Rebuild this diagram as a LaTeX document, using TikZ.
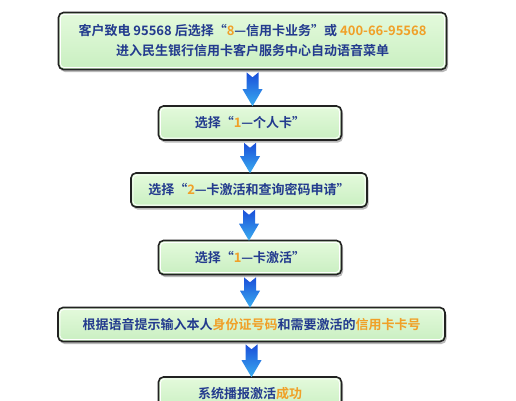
\documentclass[tikz,border=0pt]{standalone}
\usepackage{fontspec}
\setmainfont{Noto Sans CJK SC}[BoldFont={Noto Sans CJK SC Bold}]
\usepackage{xcolor}
\usepackage{tikz}
\usetikzlibrary{calc,shadows}
\definecolor{ink}{HTML}{222222}
\definecolor{textblue}{HTML}{233B8E}
\definecolor{hilite}{HTML}{F0A028}
\definecolor{softgreen}{HTML}{E4FADC}
\definecolor{boxgreen}{HTML}{C9EFC1}
\definecolor{darkblue}{HTML}{1848D8}
\definecolor{lightblue}{HTML}{3AAEF0}

\begin{document}
\begin{tikzpicture}[
  x=1pt, y=-1pt,
  font=\fontsize{13}{20}\selectfont\bfseries,
  box/.style={rounded corners=5pt, top color=softgreen, bottom color=boxgreen, draw=ink, line width=1.6pt, text=textblue, align=center, inner sep=0pt, minimum height=34pt,
    drop shadow={shadow xshift=1.5pt, shadow yshift=-2.5pt, opacity=0.55},
    path picture={\draw[white, line width=0.8pt, rounded corners=4pt] ($(path picture bounding box.south west)+(1.9pt,1.9pt)$) rectangle ($(path picture bounding box.north east)+(-1.9pt,-1.9pt)$);}},
  arrow/.style={top color=darkblue, bottom color=lightblue, draw=none,
    to path={let \p1=(\tikztostart), \p2=(\tikztotarget) in
      (\x1-6pt,\y1-2pt) -- (\x1,\y1-7pt) -- (\x1+6pt,\y1-2pt) -- (\x1+6pt,\y2+16pt) -- (\x1+10pt,\y2+16pt)
      -- (\x1,\y2-1pt) -- (\x1-10pt,\y2+16pt) -- (\x1-6pt,\y2+16pt) -- cycle}}
]
\useasboundingbox (0,0) rectangle (516,400);
\fill[white] (0,0) rectangle (516,400);
\node[box, minimum width=388pt, minimum height=57pt] (menu) at (252.5,41) {客户致电 95568 后选择“\textcolor{hilite}{8}—信用卡业务”或 \textcolor{hilite}{400-66-95568}\\进入民生银行信用卡客户服务中心自动语音菜单};
\node[box, minimum width=183pt] (personal) at (250,123) {选择“\textcolor{hilite}{1}—个人卡”};
\node[box, minimum width=236pt] (service) at (249,190) {选择“\textcolor{hilite}{2}—卡激活和查询密码申请”};
\node[box, minimum width=183pt] (activate) at (250,257.5) {选择“\textcolor{hilite}{1}—卡激活”};
\node[box, minimum width=387pt] (idinput) at (251.5,324.5) {根据语音提示输入本人\textcolor{hilite}{身份证号码}和需要激活的\textcolor{hilite}{信用卡卡号}};
\node[box, minimum width=183pt] (done) at (250,394) {系统播报激活\textcolor{hilite}{成功}};
\path[arrow] (menu.south) to (personal.north);
\path[arrow] (personal.south) to (service.north);
\path[arrow] (service.south) to (activate.north);
\path[arrow] (activate.south) to (idinput.north);
\path[arrow] (idinput.south) to (done.north);
\end{tikzpicture}
\end{document}
